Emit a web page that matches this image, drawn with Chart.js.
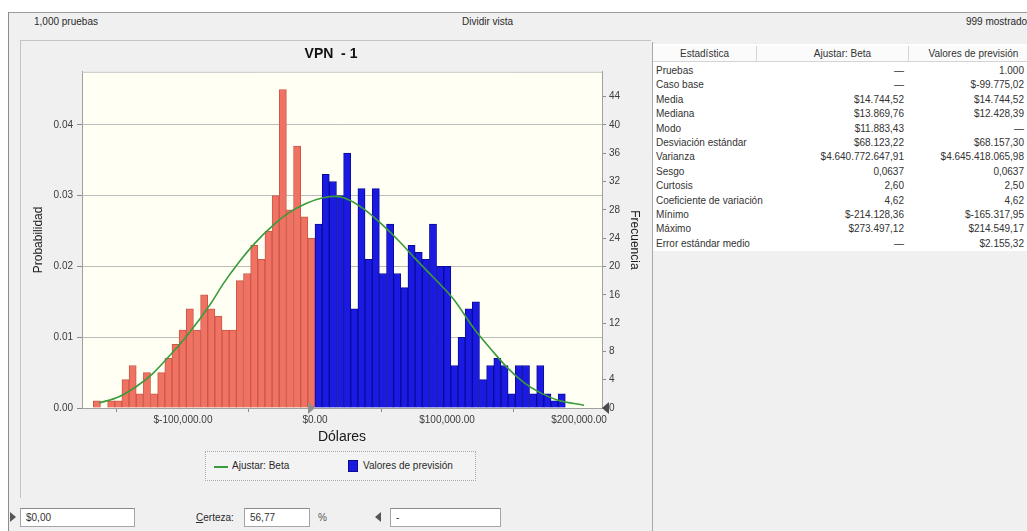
<!DOCTYPE html>
<html lang="es">
<head>
<meta charset="utf-8">
<title>VPN - 1</title>
<script src="https://cdn.jsdelivr.net/npm/chart.js@4.4.1/dist/chart.umd.min.js"></script>
<style>
  html, body { margin: 0; padding: 0; }
  body {
    width: 1027px; height: 531px; position: relative; overflow: hidden;
    background: #ffffff; font-family: "Liberation Sans", Arial, sans-serif;
    font-size: 10px; color: #2a2a2a;
  }
  .abs { position: absolute; white-space: nowrap; line-height: 12px; }
  #win { position: absolute; left: 8px; top: 12px; right: 0; bottom: 0;
         background: #f0f0f0; border-top: 1px solid #9c9c9c; border-left: 1px solid #8c8c8c; }
  #chartPanel { position: absolute; left: 20px; top: 40px; width: 631px; height: 458px;
                border-top: 1px solid #c4c4c4; border-left: 1px solid #c4c4c4; box-sizing: border-box; }
  #chartCanvas { position: absolute; left: 20px; top: 44px; }
  #statsPanel { position: absolute; left: 652px; top: 42px; right: 0; bottom: 0;
                border-left: 1px solid #a8a8a8; background: #f0f0f0; }
  #statsBody { position: absolute; left: 653px; top: 44px; right: 0; height: 207px; background: #ffffff; }
  .hdr { position: absolute; top: 46px; height: 16px; background: #fbfbfb;
         border-bottom: 1px solid #d4d4d4; border-right: 1px solid #d4d4d4; box-sizing: border-box;
         text-align: center; line-height: 15px; color: #333; overflow: hidden; white-space: nowrap; }
  .cell { position: absolute; white-space: nowrap; line-height: 12px; color: #333; }
  .num { text-align: right; }
  #legend { position: absolute; left: 205px; top: 451px; width: 271px; height: 30px;
            border: 1px dotted #a9a9a9; box-sizing: border-box; background: #f3f3f3; }
  .box { position: absolute; top: 508px; height: 19px; background: #ffffff;
         border: 1px solid #a5a5a5; border-top-color: #8a8a8a; box-sizing: border-box;
         line-height: 17px; padding-left: 5px; color: #333; }
  .tri-r { position: absolute; width: 0; height: 0; border-top: 5px solid transparent;
           border-bottom: 5px solid transparent; border-left: 6px solid #555; }
  .tri-l { position: absolute; width: 0; height: 0; border-top: 5px solid transparent;
           border-bottom: 5px solid transparent; border-right: 6px solid #555; }
</style>
</head>
<body>
<div id="win"></div>

<!-- status strip -->
<div class="abs" style="left:34px; top:16px;">1,000 pruebas</div>
<div class="abs" style="left:462px; top:16px;">Dividir vista</div>
<div class="abs" style="left:966px; top:16px;">999 mostrados</div>

<div id="chartPanel"></div>
<canvas id="chartCanvas" width="622" height="406"></canvas>

<!-- legend -->
<div id="legend">
  <div class="abs" style="left:8px; top:14px; width:14px; height:0; border-top:2px solid #3c9c3c;"></div>
  <div class="abs" style="left:26px; top:8px;">Ajustar: Beta</div>
  <div class="abs" style="left:142px; top:8px; width:10px; height:12px; background:#1a1ae0; box-sizing:border-box; border:1px solid #0c0c90;"></div>
  <div class="abs" style="left:157px; top:8px;">Valores de previsión</div>
</div>

<!-- statistics panel -->
<div id="statsPanel"></div>
<div id="statsBody"></div>
<div class="hdr" style="left:653px; width:104px;">Estadística</div>
<div class="hdr" style="left:757px; width:152px; padding-left:20px;">Ajustar: Beta</div>
<div class="hdr" style="left:909px; width:130px;">Valores de previsión</div>
<div id="statsRows"></div>

<!-- certainty controls -->
<div class="tri-r" style="left:10px; top:512px;"></div>
<div class="box" style="left:20px; width:115px;">$0,00</div>
<div class="abs" style="left:196px; top:512px;"><span style="text-decoration:underline;">C</span>erteza:</div>
<div class="box" style="left:244px; width:66px;">56,77</div>
<div class="abs" style="left:318px; top:512px; color:#555;">%</div>
<div class="tri-l" style="left:375px; top:512px;"></div>
<div class="box" style="left:390px; width:111px;">-</div>

<script>
// ---- Histogram of forecast values (frequency per bin) ----
const BIN_WIDTH = 5417;                 // dollars per bin
const BIN_START = -31 * BIN_WIDTH;      // lower edge of first bin
const redCounts = [1, 0, 1, 1, 4, 6, 2, 5, 2, 5, 7, 9, 11, 14, 11, 16, 14, 13, 11, 11,
                   18, 19, 23, 21, 25, 30, 45, 28, 37, 27, 24];
const blueCounts = [26, 33, 32, 30, 36, 14, 31, 21, 31, 19, 26, 19, 17, 23, 22, 21, 26, 20,
                    20, 6, 10, 14, 15, 4, 6, 7, 6, 2, 6, 6, 2, 6, 2, 1, 2];
const binCounts = redCounts.concat(blueCounts);
const certaintyLow = 0;                 // lower certainty grabber ($0.00)

// ---- Fitted Beta curve (probability per bin) ----
const fitX = [-163600, -148500, -135600, -122700, -110600, -97000, -78800, -69700, -57600,
              -45500, -31800, -19700, -6800, 6100, 15900, 25800, 38600, 51500, 63600, 76500,
              89400, 99200, 105300, 120500, 133300, 146200, 158300, 171200, 184100, 203800];
const fitProb = [0.0007, 0.0016, 0.0030, 0.0049, 0.0073, 0.0102, 0.0148, 0.0175, 0.0206,
                 0.0233, 0.0258, 0.0276, 0.0289, 0.0297, 0.0299, 0.0294, 0.0279, 0.0258,
                 0.0236, 0.0210, 0.0185, 0.0166, 0.0153, 0.0112, 0.0083, 0.0056, 0.0036,
                 0.0021, 0.0011, 0.0004];

// ---- Axis ticks ----
const xTickValues = [-100000, 0, 100000, 200000];
const xTickLabels = ['$-100,000.00', '$0.00', '$100,000.00', '$200,000.00'];
const probTicks = [0, 0.01, 0.02, 0.03, 0.04];
const freqTicks = [0, 4, 8, 12, 16, 20, 24, 28, 32, 36, 40, 44];

// ---- Statistics table ----
const statNames = ['Pruebas', 'Caso base', 'Media', 'Mediana', 'Modo', 'Desviación estándar',
                   'Varianza', 'Sesgo', 'Curtosis', 'Coeficiente de variación', 'Mínimo',
                   'Máximo', 'Error estándar medio'];
const statFit = ['—', '—', '$14.744,52', '$13.869,76', '$11.883,43', '$68.123,22',
                 '$4.640.772.647,91', '0,0637', '2,60', '4,62', '$-214.128,36',
                 '$273.497,12', '—'];
const statForecast = ['1.000', '$-99.775,02', '$14.744,52', '$12.428,39', '—', '$68.157,30',
                      '$4.645.418.065,98', '0,0637', '2,50', '4,62', '$-165.317,95',
                      '$214.549,17', '$2.155,32'];

(function buildTable() {
  const host = document.getElementById('statsRows');
  const top0 = 65, rowH = 14.4;
  statNames.forEach((name, i) => {
    const y = Math.round(top0 + i * rowH);
    const a = document.createElement('div');
    a.className = 'cell'; a.style.left = '656px'; a.style.top = y + 'px'; a.textContent = name;
    const b = document.createElement('div');
    b.className = 'cell num'; b.style.left = '760px'; b.style.width = '144px'; b.style.top = y + 'px';
    b.textContent = statFit[i];
    const c = document.createElement('div');
    c.className = 'cell num'; c.style.left = '880px'; c.style.width = '144px'; c.style.top = y + 'px';
    c.textContent = statForecast[i];
    host.append(a, b, c);
  });
})();

// ---- Chart ----
Chart.defaults.font.family = '"Liberation Sans", Arial, sans-serif';
Chart.defaults.color = '#333';

const RED = '#f07262', RED_EDGE = '#c9584a';
const BLUE = '#1a1ae2', BLUE_EDGE = '#0b0b98';

const plotFrame = {
  id: 'plotFrame',
  beforeDraw(chart) {
    const { ctx, chartArea: a } = chart;
    ctx.save();
    ctx.fillStyle = '#fffff4';
    ctx.fillRect(a.left, a.top, a.right - a.left, a.bottom - a.top);
    ctx.restore();
  },
  afterDraw(chart) {
    const { ctx, chartArea: a, scales } = chart;
    ctx.save();
    ctx.strokeStyle = '#c6c6c6';
    ctx.lineWidth = 1;
    ctx.beginPath();
    ctx.moveTo(a.left, a.top + 0.5);
    ctx.lineTo(a.right, a.top + 0.5);
    ctx.stroke();
    // certainty grabbers on the value axis
    const px = scales.x.getPixelForValue(certaintyLow);
    const yb = a.bottom;
    ctx.fillStyle = '#8e8e8e';
    ctx.beginPath();
    ctx.moveTo(px - 7, yb - 6); ctx.lineTo(px, yb); ctx.lineTo(px - 7, yb + 6); ctx.closePath();
    ctx.fill();
    ctx.fillStyle = '#4a4a4a';
    ctx.beginPath();
    ctx.moveTo(a.right, yb); ctx.lineTo(a.right + 7, yb - 6); ctx.lineTo(a.right + 7, yb + 6); ctx.closePath();
    ctx.fill();
    ctx.restore();
  }
};

new Chart(document.getElementById('chartCanvas'), {
  type: 'bar',
  data: {
    datasets: [
      {
        type: 'line',
        label: 'Ajustar: Beta',
        data: fitX.map((x, i) => ({ x, y: fitProb[i] })),
        xAxisID: 'x', yAxisID: 'y',
        borderColor: '#3a9b3a', borderWidth: 1.6,
        pointRadius: 0, cubicInterpolationMode: 'monotone', fill: false, order: 0
      },
      {
        type: 'bar',
        label: 'Valores de previsión',
        data: binCounts.map((c, i) => ({ x: BIN_START + (i + 0.5) * BIN_WIDTH, y: c })),
        xAxisID: 'x', yAxisID: 'y2',
        backgroundColor: ctx => (ctx.raw && ctx.raw.x < certaintyLow ? RED : BLUE),
        borderColor: ctx => (ctx.raw && ctx.raw.x < certaintyLow ? RED_EDGE : BLUE_EDGE),
        borderWidth: 1, borderSkipped: 'bottom',
        categoryPercentage: 1, barPercentage: 1, grouped: false, order: 1
      }
    ]
  },
  options: {
    responsive: false,
    animation: false,
    devicePixelRatio: 1,
    layout: { padding: 0 },
    plugins: {
      legend: { display: false },
      tooltip: { enabled: false },
      title: {
        display: true, text: 'VPN  - 1', color: '#111',
        font: { size: 14, weight: 'bold' }, padding: { top: 2, bottom: 9 }
      }
    },
    scales: {
      x: {
        type: 'linear', min: -176500, max: 217400, offset: false,
        afterBuildTicks: s => { s.ticks = xTickValues.map(v => ({ value: v })); },
        afterFit: s => { s.height = 42; },
        grid: { display: true, drawOnChartArea: false, tickLength: 4, color: '#8c8c8c' },
        border: { color: '#a0a0a0' },
        ticks: {
          autoSkip: false, maxRotation: 0, padding: 2, color: '#3a3a3a', font: { size: 10 },
          callback: v => xTickLabels[xTickValues.indexOf(v)]
        },
        title: { display: true, text: 'Dólares', color: '#1a1a1a', font: { size: 14 },
                 padding: { top: 0, bottom: 4 } }
      },
      y: {
        position: 'left', min: 0, max: 0.0475,
        afterBuildTicks: s => { s.ticks = probTicks.map(v => ({ value: v })); },
        afterFit: s => { s.width = 62; },
        grid: { color: '#bcbcbc', tickLength: 5, tickColor: '#8c8c8c' },
        border: { color: '#a0a0a0' },
        ticks: { padding: 4, color: '#3a3a3a', font: { size: 10 }, callback: v => v.toFixed(2) },
        title: { display: true, text: 'Probabilidad', color: '#1a1a1a', font: { size: 12 },
                 padding: { top: 11, bottom: 0 } }
      },
      y2: {
        position: 'right', min: 0, max: 47.5,
        afterBuildTicks: s => { s.ticks = freqTicks.map(v => ({ value: v })); },
        afterFit: s => { s.width = 40; },
        grid: { drawOnChartArea: false, tickLength: 4, color: '#8c8c8c' },
        border: { color: '#a0a0a0' },
        ticks: { padding: 3, color: '#3a3a3a', font: { size: 10 } },
        title: { display: true, text: 'Frecuencia', color: '#1a1a1a', font: { size: 12 },
                 padding: { top: 0, bottom: 0 } }
      }
    }
  },
  plugins: [plotFrame]
});
</script>
</body>
</html>
